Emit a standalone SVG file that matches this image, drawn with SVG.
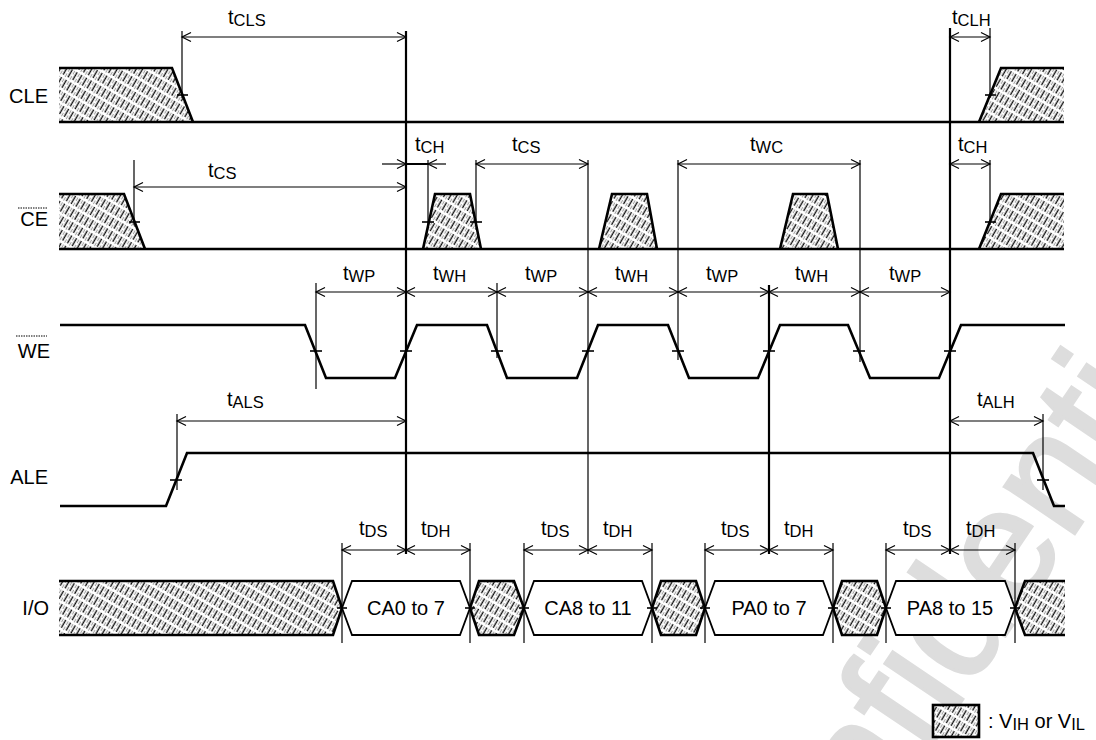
<svg xmlns="http://www.w3.org/2000/svg" width="1096" height="740" viewBox="0 0 1096 740">
<style>
text{font-family:"Liberation Sans",Arial,sans-serif;fill:#000}
.nm{font-size:20px;text-anchor:end}
.lb{font-size:20px}
.sb{font-size:16.5px}
.dl{font-size:20px;text-anchor:middle}
.w{fill:none;stroke:#000;stroke-width:2.6;stroke-linejoin:miter}
.ed{fill:none;stroke:#000;stroke-width:2.6}
.db{fill:#fff;stroke:#000;stroke-width:1.8}
.hf{fill:url(#hatch);stroke:none}
.dim{stroke:#000;stroke-width:1.2;fill:none;marker-start:url(#arr);marker-end:url(#arr)}
.one{stroke:#000;stroke-width:1.2;fill:none;marker-end:url(#arr)}
.v{stroke:#000;stroke-width:1.2}
.vt{stroke:#000;stroke-width:2.2}
.tk{stroke:#000;stroke-width:1.6}
.wm{font-family:"Liberation Sans",Arial,sans-serif;font-size:160px;fill:#dddddd;stroke:#dddddd;stroke-width:3}
</style>
<defs>
<pattern id="hatch" patternUnits="userSpaceOnUse" width="5.5" height="12" patternTransform="rotate(30)">
<rect width="5.5" height="12" fill="#fff"/>
<line x1="1.3" y1="0" x2="1.3" y2="12" stroke="#a0a0a0" stroke-width="1" stroke-dasharray="4 2"/>
<line x1="4" y1="0" x2="4" y2="12" stroke="#111" stroke-width="1.4" stroke-dasharray="9 3"/>
</pattern>
<marker id="arr" viewBox="-10 -6 12 12" refX="0" refY="0" markerWidth="12" markerHeight="12" markerUnits="userSpaceOnUse" orient="auto-start-reverse">
<path d="M-9,-4.5 L0,0 L-9,4.5" fill="none" stroke="#000" stroke-width="1.2"/>
</marker>
</defs>
<rect width="1096" height="740" fill="#fff"/>

<text class="wm" x="760" y="1000" transform="rotate(-56 760 1000)">Confidential</text>

<g id="sig-cle">
<text class="nm" x="48" y="103">CLE</text>
<polygon class="hf" points="59,68 172,68 193,122 59,122"/>
<polygon class="hf" points="979,122 1001,68 1064,68 1064,122"/>
<polyline class="w" points="59,68 172,68 193,122"/>
<polyline class="w" points="979,122 1001,68 1064,68"/>
<line class="ed" x1="59" y1="122" x2="1064" y2="122"/>
<line class="tk" x1="177" y1="95" x2="188" y2="95"/>
<line class="tk" x1="985" y1="95" x2="996" y2="95"/>
</g>

<g id="sig-ce">
<text class="nm" x="48" y="226">CE</text>
<line x1="18" y1="208" x2="47" y2="208" stroke="#000" stroke-width="1" stroke-dasharray="1.5 1"/>
<polygon class="hf" points="59,194 124,194 145,249 59,249"/>
<polygon class="hf" points="423,249 435,194 470,194 481,249"/>
<polygon class="hf" points="599,249 612,194 647,194 657,249"/>
<polygon class="hf" points="780,249 793,194 827,194 838,249"/>
<polygon class="hf" points="979,249 1001,194 1064,194 1064,249"/>
<polyline class="w" points="59,194 124,194 145,249"/>
<polyline class="w" points="423,249 435,194 470,194 481,249"/>
<polyline class="w" points="599,249 612,194 647,194 657,249"/>
<polyline class="w" points="780,249 793,194 827,194 838,249"/>
<polyline class="w" points="979,249 1001,194 1064,194"/>
<line class="ed" x1="59" y1="249" x2="1064" y2="249"/>
<line class="tk" x1="129" y1="222" x2="140" y2="222"/>
<line class="tk" x1="422" y1="222" x2="434" y2="222"/>
<line class="tk" x1="470" y1="222" x2="482" y2="222"/>
<line class="tk" x1="985" y1="222" x2="996" y2="222"/>
</g>

<g id="sig-we">
<text class="nm" x="50" y="358">WE</text>
<line x1="16" y1="336" x2="47" y2="336" stroke="#000" stroke-width="1" stroke-dasharray="1.5 1"/>
<path class="w" d="M60,325 H305 L326,378 H395 L417,325 H487 L507,378 H577 L598,325 H668 L689,378 H758 L780,325 H848 L870,378 H939 L961,325 H1065"/>
<g class="tk">
<line x1="310" y1="351" x2="322" y2="351"/>
<line x1="400" y1="351" x2="412" y2="351"/>
<line x1="491" y1="351" x2="503" y2="351"/>
<line x1="582" y1="351" x2="594" y2="351"/>
<line x1="672" y1="351" x2="684" y2="351"/>
<line x1="763" y1="351" x2="775" y2="351"/>
<line x1="853" y1="351" x2="865" y2="351"/>
<line x1="944" y1="351" x2="956" y2="351"/>
</g>
</g>

<g id="sig-ale">
<text class="nm" x="48" y="484">ALE</text>
<path class="w" d="M60,506 H166 L187,453 H1033 L1054,506 H1065"/>
<line class="tk" x1="170" y1="480" x2="182" y2="480"/>
<line class="tk" x1="1037" y1="480" x2="1049" y2="480"/>
</g>

<g id="sig-io">
<text class="nm" x="49" y="615">I/O</text>
<polygon class="hf" points="59,581 333,581 342,608 333,635 59,635"/>
<polyline class="w" points="59,581 333,581 342,608 333,635 59,635"/>
<polygon class="db" points="342,608 352,581 460,581 470,608 460,635 352,635"/>
<polygon class="db" points="524,608 534,581 642,581 652,608 642,635 534,635"/>
<polygon class="db" points="705,608 715,581 823,581 833,608 823,635 715,635"/>
<polygon class="db" points="886,608 896,581 1005,581 1015,608 1005,635 896,635"/>
<polygon class="hf" points="470,608 479,581 514,581 524,608 514,635 479,635"/>
<polygon class="hf" points="652,608 661,581 696,581 705,608 696,635 661,635"/>
<polygon class="hf" points="833,608 842,581 877,581 886,608 877,635 842,635"/>
<polygon class="hf" points="1015,608 1025,581 1065,581 1065,635 1025,635"/>
<polygon class="w" points="470,608 479,581 514,581 524,608 514,635 479,635"/>
<polygon class="w" points="652,608 661,581 696,581 705,608 696,635 661,635"/>
<polygon class="w" points="833,608 842,581 877,581 886,608 877,635 842,635"/>
<polyline class="w" points="1065,581 1025,581 1015,608 1025,635 1065,635"/>
<text class="dl" x="406" y="615">CA0 to 7</text>
<text class="dl" x="588" y="615">CA8 to 11</text>
<text class="dl" x="769" y="615">PA0 to 7</text>
<text class="dl" x="950" y="615">PA8 to 15</text>
<g class="tk">
<line x1="337" y1="608" x2="347" y2="608"/>
<line x1="465" y1="608" x2="475" y2="608"/>
<line x1="519" y1="608" x2="529" y2="608"/>
<line x1="647" y1="608" x2="657" y2="608"/>
<line x1="700" y1="608" x2="710" y2="608"/>
<line x1="828" y1="608" x2="838" y2="608"/>
<line x1="881" y1="608" x2="891" y2="608"/>
<line x1="1010" y1="608" x2="1020" y2="608"/>
</g>
</g>

<g id="connectors">
<line class="vt" x1="406" y1="31" x2="406" y2="554"/>
<line class="vt" x1="950" y1="28" x2="950" y2="554"/>
<line class="vt" x1="769" y1="285" x2="769" y2="554"/>
<line class="v" x1="182" y1="31" x2="182" y2="98"/>
<line class="v" x1="134" y1="160" x2="134" y2="225"/>
<line class="v" x1="428" y1="160" x2="428" y2="226"/>
<line class="v" x1="476" y1="160" x2="476" y2="226"/>
<line class="v" x1="588" y1="160" x2="588" y2="554"/>
<line class="v" x1="678" y1="160" x2="678" y2="360"/>
<line class="v" x1="860" y1="160" x2="860" y2="362"/>
<line class="v" x1="990" y1="28" x2="990" y2="98"/>
<line class="v" x1="990" y1="160" x2="990" y2="225"/>
<line class="v" x1="316" y1="283" x2="316" y2="389"/>
<line class="v" x1="497" y1="283" x2="497" y2="358"/>
<line class="v" x1="177" y1="414" x2="177" y2="490"/>
<line class="v" x1="1043" y1="414" x2="1043" y2="490"/>
<g class="v">
<line x1="342" y1="543" x2="342" y2="643"/>
<line x1="470" y1="543" x2="470" y2="643"/>
<line x1="524" y1="543" x2="524" y2="643"/>
<line x1="652" y1="543" x2="652" y2="643"/>
<line x1="705" y1="543" x2="705" y2="643"/>
<line x1="833" y1="543" x2="833" y2="643"/>
<line x1="886" y1="543" x2="886" y2="643"/>
<line x1="1015" y1="543" x2="1015" y2="643"/>
</g>
<line class="dim" x1="182" y1="37" x2="406" y2="37"/>
<line class="dim" x1="950" y1="37" x2="990" y2="37"/>
<line class="dim" x1="134" y1="187" x2="406" y2="187"/>
<line class="one" x1="382" y1="164" x2="406" y2="164"/>
<line x1="406" y1="164" x2="428" y2="164" stroke="#000" stroke-width="2"/>
<line class="one" x1="446" y1="164" x2="428" y2="164"/>
<line class="dim" x1="476" y1="164" x2="588" y2="164"/>
<line class="dim" x1="678" y1="164" x2="860" y2="164"/>
<line class="dim" x1="950" y1="164" x2="990" y2="164"/>
<line class="dim" x1="316" y1="292" x2="406" y2="292"/>
<line class="dim" x1="406" y1="292" x2="497" y2="292"/>
<line class="dim" x1="497" y1="292" x2="588" y2="292"/>
<line class="dim" x1="588" y1="292" x2="678" y2="292"/>
<line class="dim" x1="678" y1="292" x2="769" y2="292"/>
<line class="dim" x1="769" y1="292" x2="860" y2="292"/>
<line class="dim" x1="860" y1="292" x2="950" y2="292"/>
<line class="dim" x1="177" y1="421" x2="406" y2="421"/>
<line class="dim" x1="950" y1="421" x2="1043" y2="421"/>
<line class="dim" x1="342" y1="550" x2="406" y2="550"/>
<line class="dim" x1="406" y1="550" x2="470" y2="550"/>
<line class="dim" x1="524" y1="550" x2="588" y2="550"/>
<line class="dim" x1="588" y1="550" x2="652" y2="550"/>
<line class="dim" x1="705" y1="550" x2="769" y2="550"/>
<line class="dim" x1="769" y1="550" x2="833" y2="550"/>
<line class="dim" x1="886" y1="550" x2="950" y2="550"/>
<line class="dim" x1="950" y1="550" x2="1015" y2="550"/>
</g>

<g id="labels">
<text class="lb" x="228" y="24">t<tspan class="sb" dy="2">CLS</tspan></text>
<text class="lb" x="952" y="24">t<tspan class="sb" dy="2">CLH</tspan></text>
<text class="lb" x="208" y="177">t<tspan class="sb" dy="2">CS</tspan></text>
<text class="lb" x="415" y="151">t<tspan class="sb" dy="2">CH</tspan></text>
<text class="lb" x="512" y="151">t<tspan class="sb" dy="2">CS</tspan></text>
<text class="lb" x="750" y="151">t<tspan class="sb" dy="2">WC</tspan></text>
<text class="lb" x="958" y="151">t<tspan class="sb" dy="2">CH</tspan></text>
<text class="lb" x="343" y="280">t<tspan class="sb" dy="2">WP</tspan></text>
<text class="lb" x="433" y="280">t<tspan class="sb" dy="2">WH</tspan></text>
<text class="lb" x="525" y="280">t<tspan class="sb" dy="2">WP</tspan></text>
<text class="lb" x="615" y="280">t<tspan class="sb" dy="2">WH</tspan></text>
<text class="lb" x="706" y="280">t<tspan class="sb" dy="2">WP</tspan></text>
<text class="lb" x="795" y="280">t<tspan class="sb" dy="2">WH</tspan></text>
<text class="lb" x="889" y="280">t<tspan class="sb" dy="2">WP</tspan></text>
<text class="lb" x="227" y="406">t<tspan class="sb" dy="2">ALS</tspan></text>
<text class="lb" x="977" y="406">t<tspan class="sb" dy="2">ALH</tspan></text>
<text class="lb" x="359" y="535">t<tspan class="sb" dy="2">DS</tspan></text>
<text class="lb" x="421" y="535">t<tspan class="sb" dy="2">DH</tspan></text>
<text class="lb" x="541" y="535">t<tspan class="sb" dy="2">DS</tspan></text>
<text class="lb" x="603" y="535">t<tspan class="sb" dy="2">DH</tspan></text>
<text class="lb" x="721" y="535">t<tspan class="sb" dy="2">DS</tspan></text>
<text class="lb" x="784" y="535">t<tspan class="sb" dy="2">DH</tspan></text>
<text class="lb" x="903" y="535">t<tspan class="sb" dy="2">DS</tspan></text>
<text class="lb" x="966" y="535">t<tspan class="sb" dy="2">DH</tspan></text>
</g>

<g id="legend">
<rect x="933" y="705" width="46" height="32" fill="url(#hatch)" stroke="#000" stroke-width="2.6"/>
<text class="lb" x="988" y="728">: V<tspan class="sb" dy="2">IH</tspan><tspan dy="-2"> or V</tspan><tspan class="sb" dy="2">IL</tspan></text>
</g>
</svg>
